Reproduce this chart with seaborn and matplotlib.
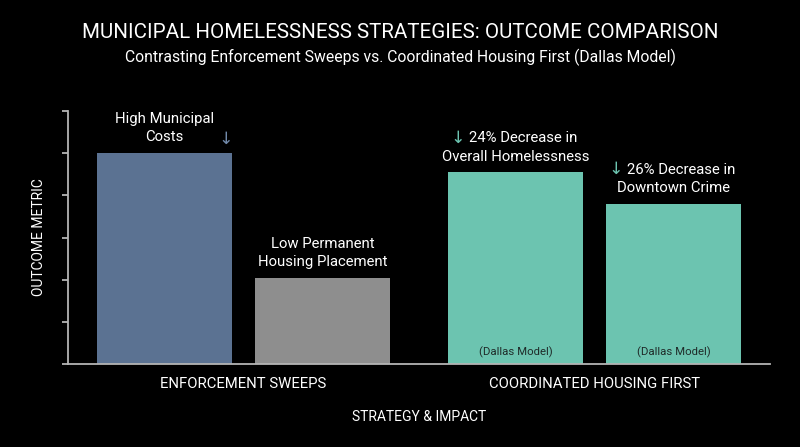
import numpy as np
import pandas as pd
import matplotlib
matplotlib.use('Agg')
import matplotlib.pyplot as plt
import seaborn as sns

# Data (axis has no numbers, units are tick steps)
strategies = ['ENFORCEMENT SWEEPS', 'COORDINATED HOUSING FIRST']
slots = ['first', 'second']
values_first = [5.0, 4.55]
values_second = [2.05, 3.8]

# one entry per bar: sweeps-first, sweeps-second, hf-first, hf-second
bar_colors = ['#5b7292', '#8e8e8e', '#6cc4b0', '#6cc4b0']
label_top = ['High Municipal', 'Low Permanent', '24% Decrease in', '26% Decrease in']
label_bottom = ['Costs', 'Housing Placement', 'Overall Homelessness', 'Downtown Crime']
inner_labels = ['', '', '(Dallas Model)', '(Dallas Model)']

TEAL = '#6cc4b0'
SLATE = '#7189aa'
SPINE = '#b4b4b4'


def main():
    df = pd.DataFrame({
        'strategy': strategies * 2,
        'slot': [slots[0]] * 2 + [slots[1]] * 2,
        'value': values_first + values_second,
    })

    sns.set_style('dark')
    plt.rcParams['font.family'] = ['Roboto', 'DejaVu Sans']
    plt.rcParams['text.color'] = 'white'

    fig = plt.figure(figsize=(8, 4.47), dpi=100, facecolor='black')
    ax = fig.add_axes([0.085, 0.185, 0.8775, 0.5673])
    ax.set_facecolor('black')

    sns.barplot(data=df, x='strategy', y='value', hue='slot',
                order=strategies, hue_order=slots, width=0.9, gap=0.15,
                saturation=1, legend=False, ax=ax)

    # recolour each bar and collect its geometry
    bars = {}
    for p in ax.patches:
        w = p.get_width()
        cx = p.get_x() + w / 2
        idx = int(round(cx))
        slot = 0 if cx < idx else 1
        k = idx * 2 + slot
        p.set_facecolor(bar_colors[k])
        p.set_edgecolor('none')
        bars[k] = (cx, p.get_height(), w)

    ax.set_xlim(-0.5, 1.5)
    ax.set_ylim(0, 6)
    ax.set_yticks(range(0, 7))
    ax.set_yticklabels([])
    ax.grid(False)

    for s in ['top', 'right']:
        ax.spines[s].set_visible(False)
    for s in ['left', 'bottom']:
        ax.spines[s].set_visible(True)
        ax.spines[s].set_color(SPINE)
        ax.spines[s].set_linewidth(1.3)

    ax.tick_params(axis='y', length=4.3, width=1.3, color=SPINE, left=True)
    ax.tick_params(axis='x', length=0, pad=9, labelsize=10.7, labelcolor='white')

    ax.set_xlabel('STRATEGY & IMPACT', fontsize=10, color='white')
    ax.xaxis.set_label_coords(0.5, -0.208)
    ax.xaxis.label.set_va('center')
    ax.set_ylabel('OUTCOME METRIC', fontsize=10, color='white')
    ax.yaxis.set_label_coords(-0.042, 0.5)
    ax.yaxis.label.set_va('center')

    # annotations above the bars
    px = 0.72  # points per pixel at 100 dpi
    for k in range(4):
        cx, h, w = bars[k]
        shift = 8 * px if k >= 2 else 0
        top = ax.annotate(label_top[k], xy=(cx, h), xytext=(shift, 34 * px),
                          textcoords='offset points', ha='center', va='center',
                          fontsize=10.7, color='white')
        ax.annotate(label_bottom[k], xy=(cx, h), xytext=(0, 15.5 * px),
                    textcoords='offset points', ha='center', va='center',
                    fontsize=10.7, color='white')
        if k >= 2:
            ax.annotate('\u2193', xy=(0, 0.5), xycoords=top, xytext=(-3, 0),
                        textcoords='offset points', ha='right', va='center',
                        fontsize=12.5, color=TEAL)
        if inner_labels[k]:
            ax.annotate(inner_labels[k], xy=(cx, 0), xytext=(0, 12 * px),
                        textcoords='offset points', ha='center', va='center',
                        fontsize=8.2, color='#1f2b29')

    # cost arrow on the first bar
    cx, h, w = bars[0]
    ax.annotate('\u2193', xy=(cx, h), xytext=(61.5 * px, 13.5 * px),
                textcoords='offset points', ha='center', va='center',
                fontsize=12.5, color=SLATE)

    fig.text(0.5, 1 - 32 / 447, 'MUNICIPAL HOMELESSNESS STRATEGIES: OUTCOME COMPARISON',
             ha='center', va='center', fontsize=14.8, color='white')
    fig.text(0.5, 1 - 57 / 447,
             'Contrasting Enforcement Sweeps vs. Coordinated Housing First (Dallas Model)',
             ha='center', va='center', fontsize=11.3, color='white')

    fig.savefig('out.png', dpi=100, facecolor='black')
    plt.close(fig)


if __name__ == '__main__':
    main()
